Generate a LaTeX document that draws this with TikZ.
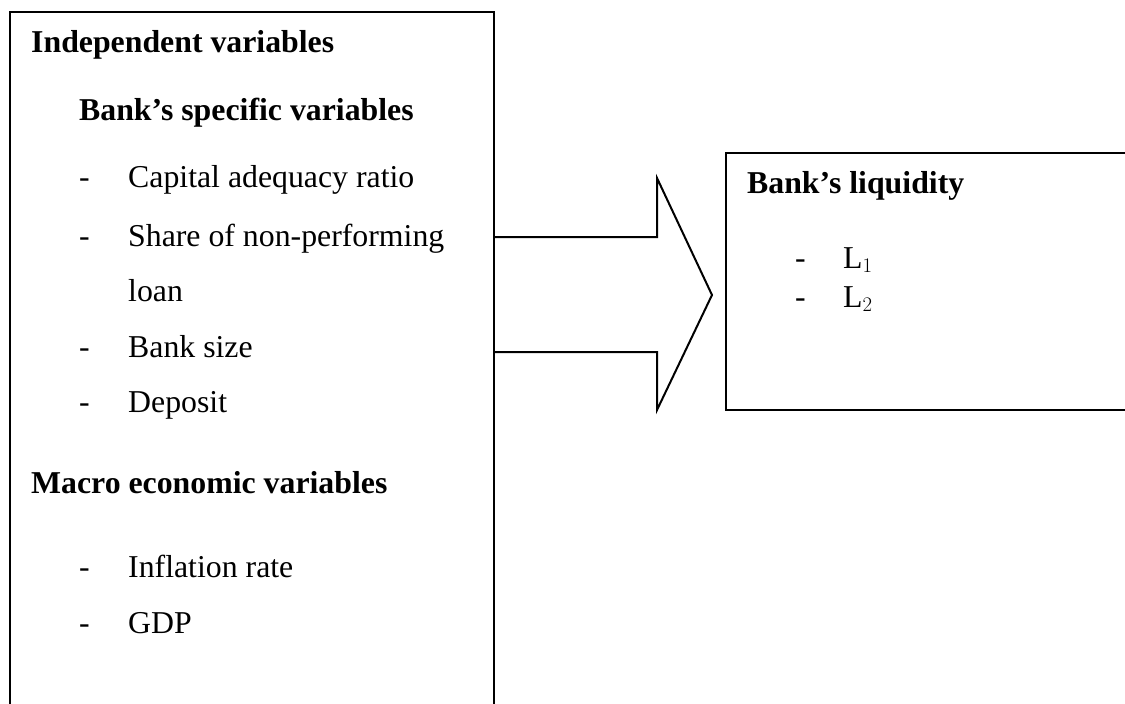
\documentclass[tikz,border=0pt]{standalone}
\usepackage{fontspec}
\setmainfont{Liberation Serif}
\begin{document}
\begin{tikzpicture}[x=1pt,y=-1pt,
  txt/.style={anchor=base west,inner sep=0pt,font=\fontsize{31.8}{36}\selectfont},
  hd/.style={txt,font=\fontsize{31.8}{36}\selectfont\bfseries},
  frame/.style={draw=black,line width=2pt}]
\useasboundingbox (0,0) rectangle (1125,704);
\clip (0,0) rectangle (1125,704);
% left box (open at bottom)
\coordinate (lbl) at (10,710);
\coordinate (ltl) at (10,12);
\coordinate (ltr) at (494,12);
\coordinate (lbr) at (494,710);
\draw[frame] (lbl) -- (ltl) -- (ltr) -- (lbr);
% right box (open at right)
\coordinate (rtr) at (1130,153);
\coordinate (rtl) at (726,153);
\coordinate (rbl) at (726,410);
\coordinate (rbr) at (1130,410);
\draw[frame] (rtr) -- (rtl) -- (rbl) -- (rbr);
% block arrow
\coordinate (a1) at (494,237);
\coordinate (a2) at (657,237);
\coordinate (a3) at (657,178);
\coordinate (tip) at (712,295);
\coordinate (a5) at (657,410);
\coordinate (a6) at (657,352);
\coordinate (a7) at (494,352);
\draw[frame,line join=miter] (a1) -- (a2) -- (a3) -- (tip) -- (a5) -- (a6) -- (a7);
% left texts
\node[hd] (h1) at (31,52) {Independent variables};
\node[hd] (h2) at (79,120) {Bank’s specific variables};
\node[txt] (d1) at (79,187) {-};
\node[txt] (t1) at (128,187) {Capital adequacy ratio};
\node[txt] (d2) at (79,246) {-};
\node[txt] (t2) at (128,246) {Share of non-performing};
\node[txt] (t2b) at (128,301) {loan};
\node[txt] (d3) at (79,357) {-};
\node[txt] (t3) at (128,357) {Bank size};
\node[txt] (d4) at (79,412) {-};
\node[txt] (t4) at (128,412) {Deposit};
\node[hd] (h3) at (31,493) {Macro economic variables};
\node[txt] (d5) at (79,577) {-};
\node[txt] (t5) at (128,577) {Inflation rate};
\node[txt] (d6) at (79,633) {-};
\node[txt] (t6) at (128,633) {GDP};
% right texts
\node[hd] (h4) at (747,193) {Bank’s liquidity};
\node[txt] (d7) at (795,268) {-};
\node[txt] (l1) at (843,268) {$\mathrm{L}_1$};
\node[txt] (d8) at (795,307) {-};
\node[txt] (l2) at (843,307) {$\mathrm{L}_2$};
\end{tikzpicture}
\end{document}
